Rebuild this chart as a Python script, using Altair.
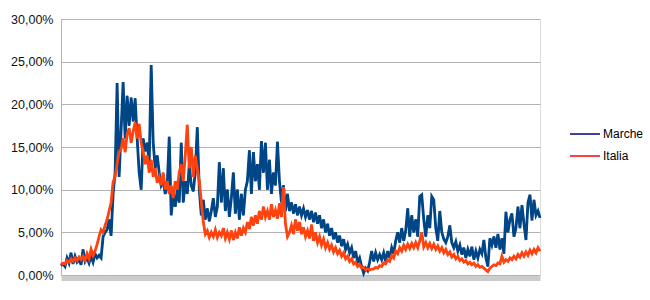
import altair as alt
import pandas as pd

# Daily positivity rate (%), one sample every ~2 px
marche = [
    1.1, 1.3, 1.0, 2.0, 1.4, 2.6, 1.3, 2.2, 1.5, 1.8,
    1.2, 3.0, 1.6, 2.0, 1.4, 2.2, 1.5, 2.5, 2.0, 2.3,
    2.0, 4.5, 5.0, 5.3, 6.5, 4.6, 9.5, 12.0, 22.5, 11.5,
    17.0, 22.6, 16.0, 21.0, 17.5, 20.8, 18.0, 20.7, 16.0, 12.0,
    10.0, 16.0, 14.5, 15.5, 13.0, 24.6, 15.5, 12.5, 14.0, 12.0,
    10.5, 11.0, 9.5, 10.5, 16.2, 7.0, 9.5, 8.0, 10.0, 8.5,
    15.5, 8.5, 11.0, 9.5, 12.9, 10.5, 9.8, 12.0, 17.3, 10.0,
    7.0, 8.8, 6.5, 7.8, 6.3, 7.5, 9.0, 6.8, 8.0, 13.2,
    8.5, 12.5, 7.5, 10.0, 6.8, 9.0, 12.0, 7.2, 10.0, 6.5,
    9.5, 7.0, 10.0, 11.0, 14.6, 9.5, 14.4, 11.0, 13.0, 10.0,
    15.7, 12.0, 15.5, 10.0, 13.5, 9.5, 12.0, 10.5, 15.6, 11.0,
    8.5, 10.5, 7.5, 9.5, 7.5, 8.5, 7.2, 8.3, 7.0, 8.0,
    7.0, 7.8, 6.8, 7.6, 6.5, 7.5, 6.2, 7.3, 6.0, 7.0,
    5.5, 6.5, 5.0, 6.0, 4.6, 5.5, 4.2, 5.0, 3.8, 4.6,
    3.4, 4.2, 3.0, 3.6, 2.6, 3.2, 2.0, 2.8, 1.5, 2.0,
    1.0, 0.2, 0.8, 0.5, 1.5, 2.8, 1.6, 2.6, 1.8, 2.4,
    1.8, 2.6, 1.6, 2.8, 2.0, 3.2, 2.5, 4.0, 5.0, 3.8,
    5.5, 4.0, 5.2, 7.8, 4.5, 7.0, 5.0, 6.5, 4.5, 9.2,
    9.4, 6.5, 4.5, 7.0, 5.5, 9.2, 8.8, 5.5, 4.0, 7.5,
    5.0, 4.2, 3.8, 4.5, 5.8, 3.8, 3.2, 3.9, 2.8, 3.5,
    2.4, 3.2, 2.0, 3.0, 2.2, 3.3, 1.8, 2.8, 2.0, 3.0,
    2.5, 4.1, 2.0, 1.0, 4.3, 3.5, 4.5, 3.2, 4.8, 3.0,
    4.3, 2.5, 7.4, 5.0, 6.5, 7.2, 4.5, 5.5, 8.0, 5.5,
    8.2, 6.0, 4.1, 8.5, 9.4, 6.4, 8.8, 7.0, 7.5, 6.7,
]
italia = [
    1.2, 1.4, 1.3, 1.7, 1.5, 1.9, 1.6, 2.0, 1.7, 2.1,
    1.8, 2.2, 1.7, 2.5, 1.9, 3.0, 2.3, 2.8, 3.6, 4.5,
    5.3, 5.0, 5.8, 6.5, 7.5, 8.5, 10.9, 11.5, 13.0, 14.4,
    14.8, 16.0, 14.4, 16.5, 17.2, 15.5, 16.8, 17.9, 16.0, 17.7,
    15.5, 14.5, 13.0, 14.0, 12.0, 13.5, 11.5, 12.5, 10.8, 11.5,
    10.5, 12.0, 10.0, 11.0, 9.5, 10.5, 9.0, 11.0, 10.0, 12.0,
    13.0, 11.0, 14.0, 17.6, 12.5, 15.0, 11.5, 14.0, 12.5, 11.0,
    8.6, 6.2, 4.8, 5.2, 4.4, 5.0, 4.5, 5.3, 4.4, 5.0,
    4.6, 5.5, 4.3, 5.0, 4.2, 5.2, 4.1, 5.0, 4.3, 5.6,
    4.6, 5.5, 5.0, 6.2, 5.4, 6.8, 5.8, 7.0, 6.0, 7.5,
    6.5, 8.0, 6.8, 7.5, 6.5, 8.3, 6.8, 7.6, 6.6, 8.4,
    6.8, 10.3, 6.0, 4.5, 5.0, 5.8, 4.8, 6.5, 5.2, 6.2,
    4.8, 5.6, 4.5, 5.2, 4.3, 5.9, 4.0, 5.0, 3.8, 4.5,
    3.5, 4.2, 3.2, 3.8, 3.0, 3.5, 2.7, 3.2, 2.5, 2.9,
    2.2, 2.6, 1.9, 2.2, 1.6, 1.9, 1.3, 1.5, 1.0, 1.2,
    0.8, 0.9, 0.6, 0.7, 0.6, 0.7, 0.7, 0.9, 0.8, 1.1,
    1.0, 1.4, 1.3, 1.8, 1.6, 2.3, 2.0, 2.8, 2.5, 3.2,
    2.8, 3.5, 3.0, 3.6, 3.1, 3.7, 3.2, 3.8, 3.2, 4.0,
    5.0, 3.3, 3.8, 3.2, 3.7, 3.1, 3.6, 3.0, 3.4, 2.8,
    3.2, 2.6, 3.0, 2.4, 2.7, 2.1, 2.4, 1.9, 2.2, 1.7,
    1.9, 1.5, 1.7, 1.3, 1.5, 1.2, 1.4, 1.0, 1.2, 0.9,
    1.0, 0.8, 0.6, 0.4, 0.8, 1.0, 1.2, 1.1, 1.4, 1.3,
    2.2, 1.5, 1.8, 1.6, 2.0, 1.8, 2.2, 1.9, 2.4, 2.1,
    2.6, 2.2, 2.7, 2.3, 2.9, 2.5, 3.0, 2.6, 3.2, 2.8,
]
series_names = ["Marche", "Italia"]
y_ticks = [0, 5, 10, 15, 20, 25, 30]

n = len(marche)
df_m = pd.DataFrame({"giorno": list(range(n)), "valore": marche, "serie": "Marche"})
df_i = pd.DataFrame({"giorno": list(range(len(italia))), "valore": italia, "serie": "Italia"})
df = pd.concat([df_m, df_i], ignore_index=True)

FONT = "Liberation Sans"

x_enc = alt.X(
    "giorno:Q",
    scale=alt.Scale(domain=[0, n - 1], nice=False, zero=False),
    axis=alt.Axis(labels=False, ticks=False, grid=False, title=None,
                  domainColor="#cccccc", domainWidth=5, offset=3),
)
y_enc = alt.Y(
    "valore:Q",
    scale=alt.Scale(domain=[0, 30], nice=False),
    axis=alt.Axis(values=y_ticks, title=None, ticks=False, labelPadding=8,
                  labelExpr="replace(format(datum.value, '.2f'), '.', ',') + '%'",
                  labelFont=FONT, labelFontSize=12.5, labelColor="#111111",
                  gridColor="#b3b3b3", gridWidth=1, domainColor="#b3b3b3"),
)

legend_layer = alt.Chart(df).mark_line(strokeWidth=1.5).encode(
    x=x_enc, y=y_enc,
    color=alt.Color("serie:N",
                    scale=alt.Scale(domain=series_names, range=["#000080", "#ff0000"]),
                    legend=alt.Legend(title=None, orient="none", legendX=508, legendY=99,
                                      symbolType="stroke", symbolSize=900,
                                      symbolStrokeWidth=1.5, labelFont=FONT,
                                      labelFontSize=12, labelColor="#000000",
                                      rowPadding=-7, labelOffset=2, padding=0)),
)

line_m = alt.Chart(df_m).mark_line(strokeWidth=2.8, color="#004586").encode(x=x_enc, y=y_enc)
line_i = alt.Chart(df_i).mark_line(strokeWidth=2.8, color="#ff420e").encode(x=x_enc, y=y_enc)

chart = alt.layer(legend_layer, line_m, line_i).properties(
    width=479, height=256,
    autosize="none",
    padding={"left": 61, "top": 19, "right": 110, "bottom": 25},
).configure_view(stroke="#b3b3b3").configure(background="white")

chart.save("out.html", embed_options={"renderer": "svg", "actions": False})
